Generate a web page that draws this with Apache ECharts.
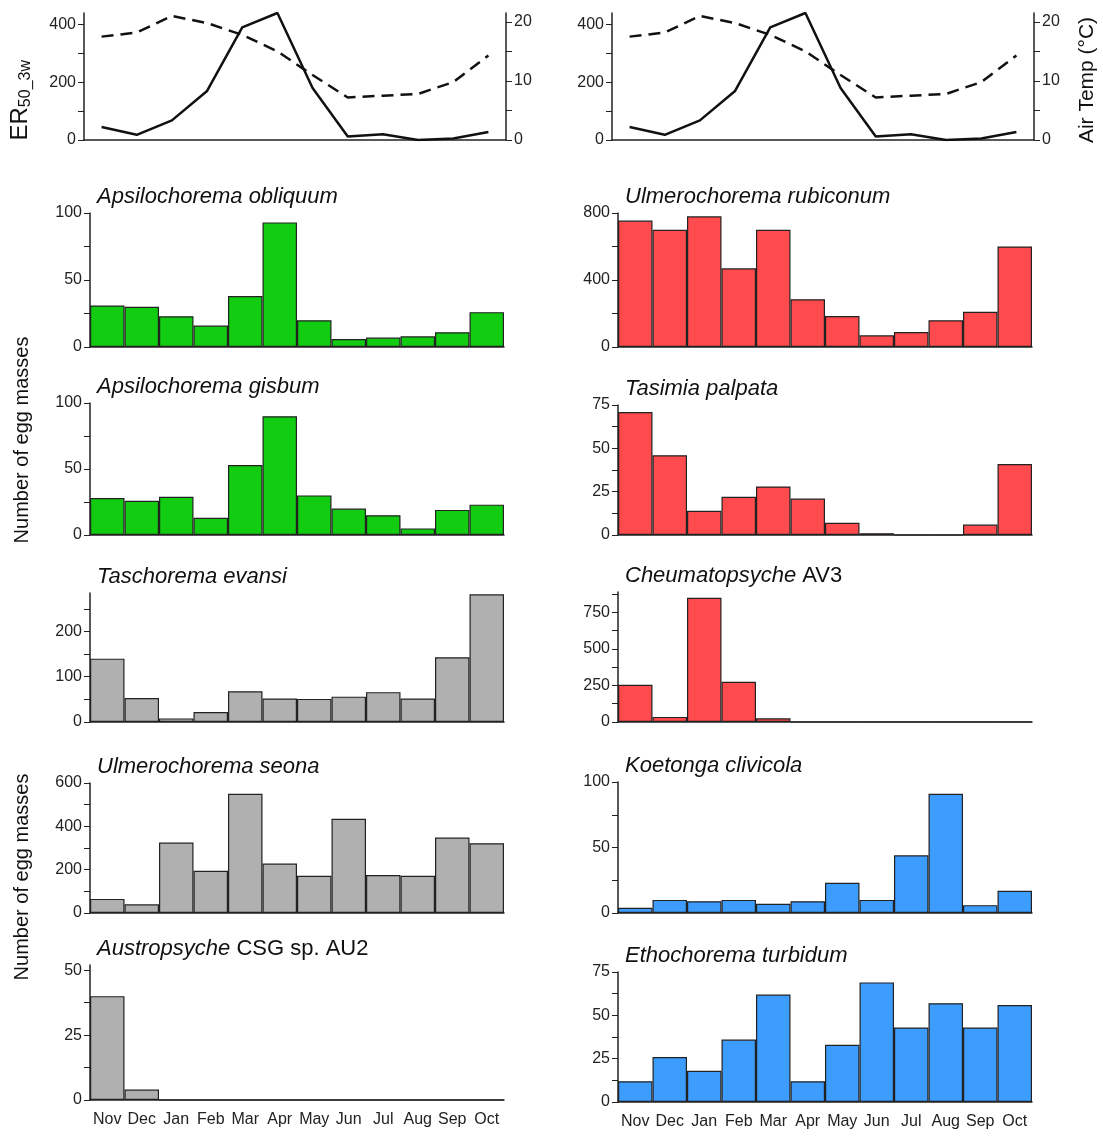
<!DOCTYPE html>
<html><head><meta charset="utf-8">
<script src="https://cdn.jsdelivr.net/npm/echarts@6/dist/echarts.min.js"></script>
<style>html,body{margin:0;background:#fff}#main{width:1103px;height:1139px}</style>
</head><body><div id="main"></div>
<script>
var months = ['Nov','Dec','Jan','Feb','Mar','Apr','May','Jun','Jul','Aug','Sep','Oct'];
var er50 = [45, 18, 68, 170, 390, 440, 180, 12, 20, 0, 5, 28];
var airTemp = [17.5, 18.2, 21, 19.8, 17.8, 15, 11, 7.2, 7.5, 7.8, 9.8, 14.3];

var obliquum = [31, 30, 23, 16, 38, 93, 20, 6, 7, 8, 11, 26];
var gisbum = [28, 26, 29, 13, 53, 90, 30, 20, 15, 5, 19, 23];
var evansi = [140, 53, 8, 22, 68, 52, 51, 56, 66, 52, 143, 282];
var seona = [65, 40, 325, 195, 550, 228, 172, 435, 175, 172, 348, 322];
var austro = [40, 4, 0, 0, 0, 0, 0, 0, 0, 0, 0, 0];
var rubiconum = [755, 700, 780, 470, 700, 285, 185, 70, 90, 160, 210, 600];
var palpata = [71, 46, 14, 22, 28, 21, 7, 1, 0, 0, 6, 41];
var cheumato = [255, 35, 850, 275, 25, 0, 0, 0, 0, 0, 0, 0];
var koetonga = [4, 10, 9, 10, 7, 9, 23, 10, 44, 91, 6, 17];
var ethochorema = [12, 26, 18, 36, 62, 12, 33, 69, 43, 57, 43, 56];

var GREEN = '#11cc11', RED = '#ff4b4d', GREY = '#b0b0b0', BLUE = '#3d9dff';
var FONT = 'Liberation Sans';

var panels = [
  {name: '{i|Apsilochorema obliquum}', data: obliquum, col: 0, top: 213, bot: 347, max: 100, step: 25, lab: 50, color: GREEN},
  {name: '{i|Apsilochorema gisbum}', data: gisbum, col: 0, top: 403, bot: 535, max: 100, step: 25, lab: 50, color: GREEN},
  {name: '{i|Taschorema evansi}', data: evansi, col: 0, top: 593, bot: 722, max: 285, step: 50, lab: 100, color: GREY},
  {name: '{i|Ulmerochorema seona}', data: seona, col: 0, top: 783, bot: 913, max: 600, step: 100, lab: 200, color: GREY},
  {name: '{i|Austropsyche} CSG sp. AU2', data: austro, col: 0, top: 965, bot: 1100, max: 52, step: 12.5, lab: 25, color: GREY, last: true},
  {name: '{i|Ulmerochorema rubiconum}', data: rubiconum, col: 1, top: 213, bot: 347, max: 800, step: 200, lab: 400, color: RED},
  {name: '{i|Tasimia palpata}', data: palpata, col: 1, top: 405, bot: 535, max: 75, step: 12.5, lab: 25, color: RED},
  {name: '{i|Cheumatopsyche} AV3', data: cheumato, col: 1, top: 592, bot: 722, max: 890, step: 125, lab: 250, color: RED},
  {name: '{i|Koetonga clivicola}', data: koetonga, col: 1, top: 782, bot: 913, max: 100, step: 25, lab: 50, color: BLUE},
  {name: '{i|Ethochorema turbidum}', data: ethochorema, col: 1, top: 972, bot: 1102, max: 75, step: 12.5, lab: 25, color: BLUE, last: true}
];

var grids = [], xAxes = [], yAxes = [], series = [], titles = [];
var colLeft = [90, 618];

function labFmt(lab) {
  return function (v) { return Math.abs(v / lab - Math.round(v / lab)) < 1e-6 ? String(v) : ''; };
}
var axLine = {show: true, lineStyle: {color: '#222', width: 1.5}};
var tickLab = {color: '#222', fontSize: 16, fontFamily: FONT};

// top line panels
[0, 1].forEach(function (c) {
  var gi = grids.length;
  grids.push({left: colLeft[c] - 6, width: 422, top: 13, height: 127});
  xAxes.push({type: 'category', gridIndex: gi, data: months, boundaryGap: true,
    axisLine: axLine, axisTick: {show: false}, axisLabel: {show: false}});
  yAxes.push({type: 'value', gridIndex: gi, min: 0, max: 440, interval: 100, splitLine: {show: false},
    axisLine: axLine, axisTick: {show: true, length: 6},
    axisLabel: Object.assign({formatter: labFmt(200), showMaxLabel: false}, tickLab)});
  yAxes.push({type: 'value', gridIndex: gi, position: 'right', min: 0, max: 21.5, interval: 5, splitLine: {show: false},
    axisLine: axLine, axisTick: {show: true, length: 6},
    axisLabel: Object.assign({formatter: labFmt(10), showMaxLabel: false}, tickLab)});
  series.push({type: 'line', xAxisIndex: gi, yAxisIndex: 2 * c, data: er50, symbol: 'none',
    lineStyle: {color: '#111', width: 2.5}});
  series.push({type: 'line', xAxisIndex: gi, yAxisIndex: 2 * c + 1, data: airTemp, symbol: 'none',
    lineStyle: {color: '#111', width: 2.5, type: [12, 7]}});
});

panels.forEach(function (p) {
  var gi = grids.length;
  grids.push({left: colLeft[p.col], width: 414, top: p.top, height: p.bot - p.top});
  xAxes.push({type: 'category', gridIndex: gi, data: months, boundaryGap: true,
    axisLine: axLine, axisTick: {show: false},
    axisLabel: Object.assign({show: !!p.last, interval: 0, margin: 12}, tickLab)});
  var ai = yAxes.length;
  yAxes.push({type: 'value', gridIndex: gi, min: 0, max: p.max, interval: p.step, splitLine: {show: false},
    axisLine: axLine, axisTick: {show: true, length: 6},
    axisLabel: Object.assign({formatter: labFmt(p.lab), showMaxLabel: p.max % p.lab === 0}, tickLab)});
  series.push({type: 'bar', xAxisIndex: gi, yAxisIndex: ai, data: p.data, barCategoryGap: '0%',
    itemStyle: {color: p.color, borderColor: '#222', borderWidth: 1.2}});
  titles.push({text: p.name, left: colLeft[p.col] + 2, top: p.top - 32,
    textStyle: {fontSize: 22, fontWeight: 'normal', color: '#111', fontFamily: FONT,
      rich: {i: {fontStyle: 'italic', fontSize: 22, color: '#111', fontFamily: FONT}}}});
});

var option = {
  animation: false,
  title: titles,
  grid: grids, xAxis: xAxes, yAxis: yAxes, series: series,
  graphic: [
    {type: 'text', left: 8, top: 60, rotation: Math.PI / 2, style: {
      text: 'ER{s|50_3w}', font: '24px ' + FONT, fill: '#111', rich: {s: {fontSize: 16, fontFamily: FONT, padding: [12, 0, 0, 0]}}}},
    {type: 'text', x: 22, y: 440, rotation: Math.PI / 2, style: {
      text: 'Number of egg masses', font: '20px ' + FONT, fill: '#111', align: 'center', verticalAlign: 'middle'}},
    {type: 'text', x: 22, y: 877, rotation: Math.PI / 2, style: {
      text: 'Number of egg masses', font: '20px ' + FONT, fill: '#111', align: 'center', verticalAlign: 'middle'}},
    {type: 'text', x: 1087, y: 80, rotation: Math.PI / 2, style: {
      text: 'Air Temp (°C)', font: '21px ' + FONT, fill: '#111', align: 'center', verticalAlign: 'middle'}}
  ]
};
var chart = echarts.init(document.getElementById('main'));
chart.setOption(option);
</script></body></html>
